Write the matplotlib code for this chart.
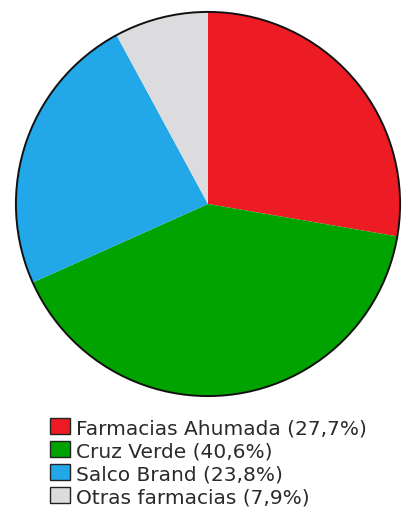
import matplotlib
matplotlib.use("Agg")
import matplotlib.pyplot as plt
from matplotlib.patches import Patch

labels = ["Farmacias Ahumada", "Cruz Verde", "Salco Brand", "Otras farmacias"]
shares = [27.7, 40.6, 23.8, 7.9]
colors = ["#ED1C24", "#00A300", "#22A7E8", "#DCDCDE"]
legend_labels = [f"{l} ({str(v).replace('.', ',')}%)" for l, v in zip(labels, shares)]

W, H = 406, 510
fig = plt.figure(figsize=(W / 100, H / 100), dpi=100)
cx, cy, r = 208, 205, 194
ax = fig.add_axes([(cx - r) / W, (H - cy - r) / H, 2 * r / W, 2 * r / H])
ax.pie(shares, colors=colors, startangle=90, counterclock=False,
       wedgeprops=dict(edgecolor="none"))
circle = plt.Circle((0, 0), 1.0, fill=False, edgecolor="#111111", linewidth=1.4)
ax.add_patch(circle)
ax.set_xlim(-1.01, 1.01)
ax.set_ylim(-1.01, 1.01)
ax.set_aspect("equal")
ax.axis("off")

handles = [Patch(facecolor=c, edgecolor="#222222", linewidth=1.0) for c in colors]
fig.legend(handles, legend_labels, loc="upper left",
           bbox_to_anchor=(50 / W, (H - 419) / H), frameon=False,
           prop=dict(family="DejaVu Sans", size=14.5),
           handlelength=1.0, handleheight=0.85, handletextpad=0.3,
           labelspacing=0.2, borderpad=0, borderaxespad=0,
           labelcolor="#2a2a2a")

fig.savefig("out.png", dpi=100)
